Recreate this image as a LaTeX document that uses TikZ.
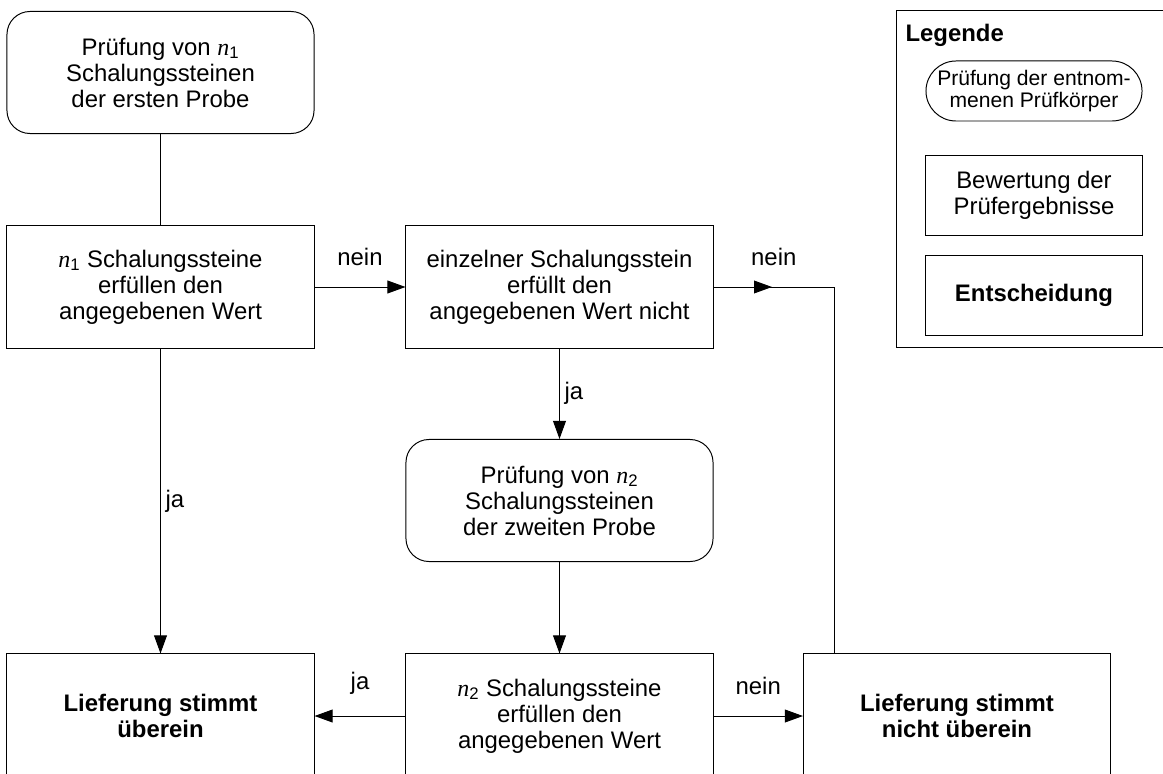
\documentclass[tikz,border=0pt]{standalone}
\usepackage{fontspec}
\setmainfont{Liberation Sans}
\newfontfamily\serifkursiv{Liberation Serif}
\usetikzlibrary{shapes,arrows.meta}

\newcommand{\nsub}[1]{{\serifkursiv\itshape n}\textsubscript{#1}}
\newcommand{\grund}{\fontsize{17}{18.5}\selectfont}
\newcommand{\klein}{\fontsize{15}{15.5}\selectfont}

\tikzset{
	pruefung/.style={rectangle,draw,rounded corners=0.575cm,minimum width=7.675cm,minimum height=3.05cm,align=center,font=\grund},
	bewertung/.style={rectangle,draw,minimum width=7.675cm,minimum height=3.05cm,align=center,font=\grund},
	entscheidung/.style={bewertung,font=\grund\bfseries},
	pfeil/.style={-{Triangle[length=0.45cm,width=0.32cm]}},
	beschriftung/.style={font=\grund}
}

\begin{document}
\begin{tikzpicture}[x=0.025cm,y=-0.025cm,line width=0.7pt]
			\clip (0,0) rectangle (1163,774);
			\node[pruefung] (pruef1) at (160.5,72.5) {Prüfung von \nsub{1}\\Schalungssteinen\\der ersten Probe};
			\node[bewertung] (n1) at (160.5,287) {\nsub{1} Schalungssteine\\erfüllen den\\angegebenen Wert};
			\node[bewertung] (einzel) at (559.5,287) {einzelner Schalungsstein\\erfüllt den\\angegebenen Wert nicht};
			\node[pruefung] (pruef2) at (559.5,500.5) {Prüfung von \nsub{2}\\Schalungssteinen\\der zweiten Probe};
			\node[entscheidung,minimum height=3.1cm] (ok) at (160.5,716) {Lieferung stimmt\\überein};
			\node[bewertung,minimum height=3.1cm] (n2) at (559.5,716) {\nsub{2} Schalungssteine\\erfüllen den\\angegebenen Wert};
			\node[entscheidung,minimum height=3.1cm] (notok) at (957,716) {Lieferung stimmt\\nicht überein};
			
			\draw (896,10) rectangle (1180,347);
			\node[anchor=west,inner sep=0pt,font=\grund\bfseries] (legende) at (905,35) {Legende};
			\node[pruefung,minimum width=5.4cm,minimum height=1.5cm,rounded corners=0.75cm,font=\klein] (lpruef) at (1034,91) {Prüfung der entnom-\\menen Prüfkörper};
			\node[bewertung,minimum width=5.4cm,minimum height=1.975cm] (lbew) at (1034,195.5) {Bewertung der\\Prüfergebnisse};
			\node[entscheidung,minimum width=5.4cm,minimum height=1.975cm] (lent) at (1034,295.5) {Entscheidung};
			
			\coordinate (mitte) at (772,287);
			\coordinate (knick) at (834,287);
			
			\draw (pruef1) -- (n1);
			\path[pfeil,draw] (n1) -- node[midway,right,beschriftung] {ja} (ok);
			\path[pfeil,draw] (n1) -- node[midway,above=4mm,beschriftung] {nein} (einzel);
			\path[pfeil,draw] (einzel) -- node[midway,right,beschriftung] {ja} (pruef2);
			\path[pfeil,draw] (pruef2) -- (n2);
			\path[pfeil,draw] (n2) -- node[midway,above=4mm,beschriftung] {ja} (ok);
			\path[pfeil,draw] (n2) -- node[midway,above=4mm,beschriftung] {nein} (notok);
			\path[draw] (einzel) -- node[midway,above=4mm,beschriftung] {nein} (knick) -- (knick |- notok.north);
			\path[pfeil,draw] (einzel) -- (mitte);
		\end{tikzpicture}
\end{document}
